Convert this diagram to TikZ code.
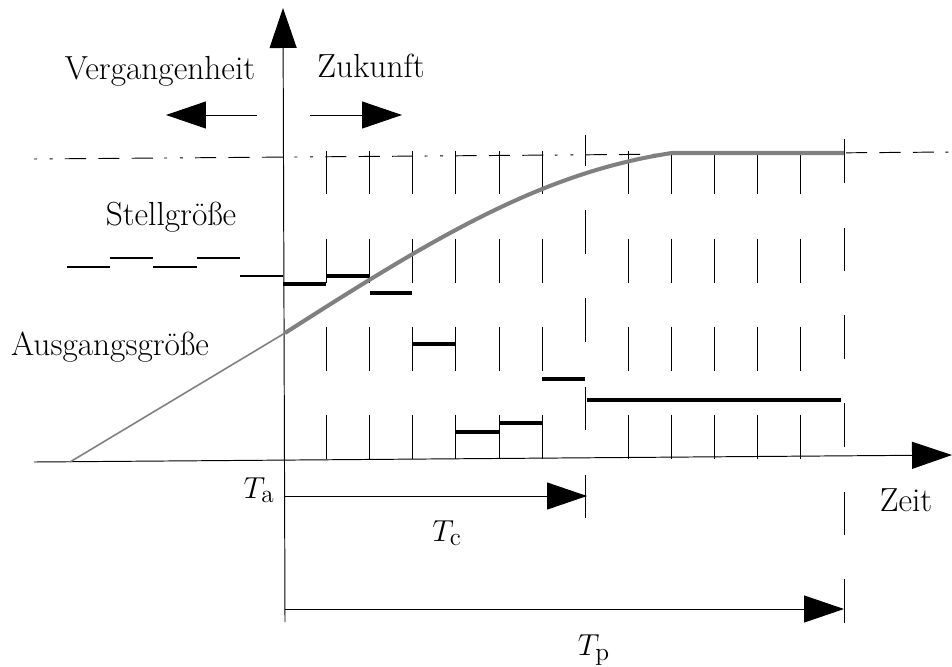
\documentclass[tikz,border=0pt]{standalone}
\usetikzlibrary{arrows.meta}
\begin{document}
\begin{tikzpicture}[x=.02cm,y=-.02cm,line width=.55pt,line cap=butt,
  tip/.style={-{Triangle[length=.8cm,width=.54cm]}},
  lbl/.style={font=\fontsize{19}{22}\selectfont,inner sep=0pt},
  past/.style={line width=.6pt},
  futr/.style={line width=2.3pt},
  outp/.style={gray,line width=2.3pt}]
  \useasboundingbox (0,0) rectangle (952,666);
  % axes
  \coordinate (Yb) at (285,622); \coordinate (Yt) at (283,8);
  \coordinate (Xl) at (34,462); \coordinate (Xr) at (952,455);
  \draw[tip] (Yb)--(Yt);
  \draw[tip] (Xl)--(Xr);
  \coordinate (Sl) at (34,159); \coordinate (Sr) at (952,152);
  \draw[dash pattern=on 1.7pt off 7.2pt on 1.7pt off 7pt on 12pt off 7pt on 12pt off 7pt on 12pt off 6.5pt] (Sl)--(Sr);
  % grid of ticks
  \foreach \k in {1,...,6,8,9,10,11,12}
    \foreach \a/\b in {151/194,239/283,327/371,415/459}
      \draw (283.5+43.1*\k,\a)--(283.5+43.1*\k,\b);
  \foreach \a/\b in {135/166,210/254,298/342,387/430,475/518}
    \draw (585,\a)--(585,\b);
  \foreach \a/\b in {139/183,228/271,315/359,403/447,492/535,579/623}
    \draw (844,\a)--(844,\b);
  % past and future
  \coordinate (Pl) at (257,115); \coordinate (Pr) at (166,115);
  \coordinate (Fl) at (310,115); \coordinate (Fr) at (402,115);
  \draw[tip] (Pl)--(Pr);
  \draw[tip] (Fl)--(Fr);
  \node[lbl,anchor=base] (verg) at (160,79) {Vergangenheit};
  \node[lbl,anchor=base] (zuk) at (371,77) {Zukunft};
  % control signal
  \node[lbl,anchor=base] (stell) at (171,225) {Stellgröße};
  \draw[past] (67,267)--(110,267) (110,258)--(153,258) (153,267)--(197,267)
    (197,258)--(240,258) (240,276)--(283,276);
  \foreach \xa/\xb/\y in {283/326/284,326/369/276,370/412/293,413/456/344,456/499/432,499/542/423,542/585/379,587/841/400}
    \draw[futr] (\xa,\y)--(\xb,\y);
  % output
  \node[lbl,anchor=base] (ausg) at (110,355) {Ausgangsgröße};
  \coordinate (A0) at (70,462); \coordinate (A1) at (285,333);
  \coordinate (A2) at (672,153); \coordinate (A3) at (844,153);
  \draw[gray,line width=.9pt] (A0)--(A1);
  \draw[outp] (A1) .. controls (435,237) and (542,172.5) .. (A2)--(A3);
  % horizons
  \coordinate (Ca) at (285,496); \coordinate (Cb) at (587,496);
  \coordinate (Pa) at (285,609); \coordinate (Pb) at (844,609);
  \draw[tip] (Ca)--(Cb);
  \draw[tip] (Pa)--(Pb);
  \node[lbl] (ta) at (259,490) {$T_\mathrm{a}$};
  \node[lbl] (tc) at (447,533) {$T_\mathrm{c}$};
  \node[lbl] (tp) at (594,650) {$T_\mathrm{p}$};
  \node[lbl] (zeit) at (906,500) {Zeit};
\end{tikzpicture}
\end{document}
